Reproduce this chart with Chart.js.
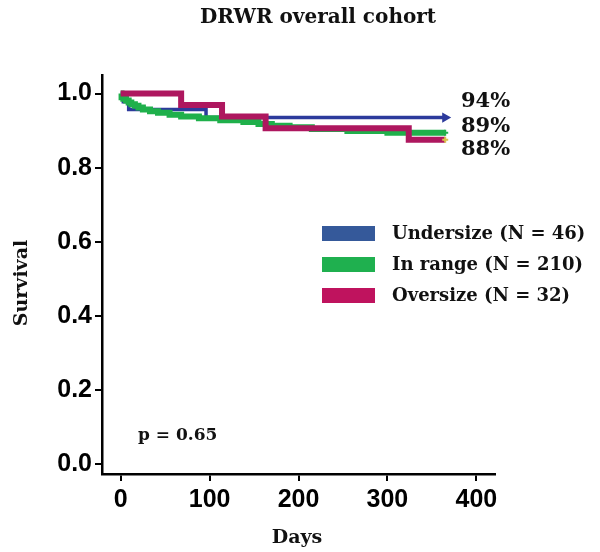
<!DOCTYPE html>
<html>
<head>
<meta charset="utf-8">
<script src="https://cdn.jsdelivr.net/npm/chart.js@4.4.1/dist/chart.umd.min.js"></script>
<style>
  html, body { margin: 0; padding: 0; background: #fff; }
  #wrap { width: 600px; height: 552px; }
</style>
</head>
<body>
<div id="wrap"><canvas id="kmChart" width="600" height="552"></canvas></div>
<script>
// Kaplan-Meier steps (days, survival)
var seriesLabels = ["Undersize (N = 46)", "In range (N = 210)", "Oversize (N = 32)"];

var underDays = [0, 3, 9, 96, 365];
var underSurv = [1.0, 0.978, 0.957, 0.935, 0.935];

var rangeDays = [0, 1, 3, 6, 9, 12, 16, 20, 25, 33, 42, 55, 68, 88, 112, 138, 155, 170, 190, 215, 255, 300, 365];
var rangeSurv = [1.0, 0.990, 0.986, 0.981, 0.976, 0.971, 0.967, 0.962, 0.957, 0.952, 0.948, 0.943, 0.938, 0.933, 0.928, 0.923, 0.918, 0.913, 0.909, 0.904, 0.899, 0.894, 0.894];

var overDays = [0, 68, 114, 163, 324, 365];
var overSurv = [1.0, 0.969, 0.938, 0.906, 0.875, 0.875];

var endLabels = ["94%", "89%", "88%"];
var xTicks = [0, 100, 200, 300, 400];
var yTicks = [0, 0.2, 0.4, 0.6, 0.8, 1.0];
var pValue = "p = 0.65";

var lineColors = ["#2c3a9c", "#1fb04b", "#ae175f"];
var legendColors = ["#35599a", "#1fb04f", "#bf135e"];

function toPoints(days, surv) {
    return days.map(function (d, i) { return { x: d, y: surv[i] }; });
}

function lastOnly(r) {
    return function (ctx) {
        return ctx.dataIndex === ctx.dataset.data.length - 1 ? r : 0;
    };
}

var serif = "'DejaVu Serif', serif";
var sans = "'Liberation Sans', Arial, sans-serif";

var overlay = {
    id: "overlay",
    afterDraw: function (chart) {
        var c = chart.ctx;
        c.save();
        c.fillStyle = "#111";
        c.textBaseline = "middle";

        // title
        c.font = "bold 20px " + serif;
        c.textAlign = "center";
        c.fillText("DRWR overall cohort", 318, 18);

        // axis titles
        c.font = "bold 19px " + serif;
        c.fillText("Days", 297, 538);
        c.save();
        c.translate(22, 283);
        c.rotate(-Math.PI / 2);
        c.fillText("Survival", 0, 0);
        c.restore();

        // percentages at line ends
        c.font = "bold 21px " + serif;
        c.textAlign = "left";
        c.fillText(endLabels[0], 461, 102);
        c.fillText(endLabels[1], 461, 127);
        c.fillText(endLabels[2], 461, 150);

        // legend
        c.font = "bold 18px " + serif;
        for (var i = 0; i < seriesLabels.length; i++) {
            var y = 226 + i * 31;
            c.fillStyle = legendColors[i];
            c.fillRect(322, y, 53, 15);
            c.fillStyle = "#111";
            c.fillText(seriesLabels[i], 392, y + 8);
        }

        // p value
        c.font = "bold 17px " + serif;
        c.fillText(pValue, 138, 436);
        c.restore();
    }
};

var ctx = document.getElementById("kmChart").getContext("2d");
var kmChart = new Chart(ctx, {
    type: "line",
    data: {
        datasets: [
            {
                label: seriesLabels[0],
                data: toPoints(underDays, underSurv),
                borderColor: lineColors[0],
                backgroundColor: lineColors[0],
                borderWidth: 3.5,
                stepped: true,
                pointStyle: "triangle",
                rotation: 90,
                pointRadius: lastOnly(2.5),
                order: 3
            },
            {
                label: seriesLabels[1],
                data: toPoints(rangeDays, rangeSurv),
                borderColor: lineColors[1],
                backgroundColor: lineColors[1],
                borderWidth: 6,
                stepped: true,
                pointStyle: "cross",
                pointBorderWidth: 2,
                pointRadius: lastOnly(3),
                order: 2
            },
            {
                label: seriesLabels[2],
                data: toPoints(overDays, overSurv),
                borderColor: lineColors[2],
                backgroundColor: lineColors[2],
                borderWidth: 6,
                stepped: true,
                pointStyle: "cross",
                pointBorderColor: "#d9c24a",
                pointBorderWidth: 2,
                pointRadius: lastOnly(3),
                order: 1
            }
        ]
    },
    options: {
        responsive: false,
        animation: false,
        layout: { padding: { top: 75, right: 105, left: 0, bottom: 0 } },
        plugins: {
            legend: { display: false },
            title: { display: false },
            tooltip: { enabled: false }
        },
        scales: {
            x: {
                type: "linear",
                min: -21,
                max: 421,
                afterFit: function (scale) { scale.height = 78; },
                afterBuildTicks: function (scale) {
                    scale.ticks = xTicks.map(function (v) { return { value: v }; });
                },
                grid: { drawOnChartArea: false, drawTicks: true, tickLength: 7, color: "#000", lineWidth: 2 },
                border: { display: true, color: "#000", width: 2.5 },
                ticks: {
                    color: "#000",
                    padding: 4,
                    maxRotation: 0,
                    font: { family: sans, size: 25, weight: "bold" }
                }
            },
            y: {
                type: "linear",
                min: -0.027,
                max: 1.05,
                afterFit: function (scale) { scale.width = 102; },
                afterBuildTicks: function (scale) {
                    scale.ticks = yTicks.map(function (v) { return { value: v }; });
                },
                grid: { drawOnChartArea: false, drawTicks: true, tickLength: 7, color: "#000", lineWidth: 2 },
                border: { display: true, color: "#000", width: 2.5 },
                ticks: {
                    color: "#000",
                    padding: 3,
                    font: { family: sans, size: 25, weight: "bold" },
                    callback: function (value) { return value.toFixed(1); }
                }
            }
        }
    },
    plugins: [overlay]
});
</script>
</body>
</html>
